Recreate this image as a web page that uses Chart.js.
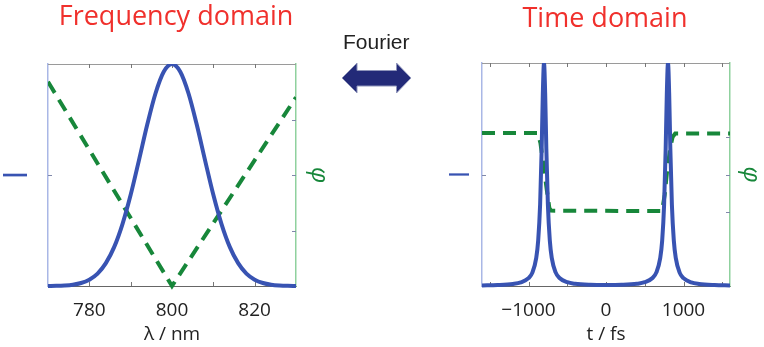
<!DOCTYPE html>
<html lang="en">
<head>
  <meta charset="UTF-8" />
  <title>Frequency domain / Time domain</title>
  <script src="https://cdn.jsdelivr.net/npm/chart.js"></script>
  <style>
    html, body { margin: 0; padding: 0; background: #fff; }
    body { width: 764px; height: 347px; position: relative; overflow: hidden; }
    .panel { position: absolute; top: 0; height: 347px; }
    #freqPanel { left: 0; width: 352px; }
    #timePanel { left: 446px; width: 318px; }
    #fourier {
      position: absolute; left: 343px; top: 30.5px;
      font: 21px/21px 'Liberation Sans', Arial, sans-serif; color: #222;
    }
    #arrow { position: absolute; left: 340px; top: 61px; }
  </style>
</head>
<body>
  <div id="freqPanel" class="panel"><canvas id="freqChart"></canvas></div>
  <div id="timePanel" class="panel"><canvas id="timeChart"></canvas></div>
  <div id="fourier">Fourier</div>
  <svg id="arrow" width="74" height="34">
    <polygon points="2,17 17,2 17,9.5 56.5,9.5 56.5,2 71,17 56.5,32 56.5,25 17,25 17,32"
             fill="#232a78" stroke="#8e94ba" stroke-width="1" />
  </svg>

  <script>
    // ── values ─────────────────────────────────────────────────
    const lambdaNm = [770, 772, 774, 776, 778, 780, 782, 784, 786, 788, 790, 792, 794, 796, 798, 800,
                      802, 804, 806, 808, 810, 812, 814, 816, 818, 820, 822, 824, 826, 828, 830];
    const spectrum = [0.0003, 0.0009, 0.0025, 0.006, 0.0135, 0.0286, 0.056, 0.103, 0.175, 0.278, 0.411, 0.566, 0.726, 0.867, 0.965, 1,
                      0.965, 0.867, 0.726, 0.566, 0.411, 0.278, 0.175, 0.103, 0.056, 0.0286, 0.0135, 0.006, 0.0025, 0.0009, 0.0003];
    const phaseLambdaNm = [770, 800, 830];
    const spectralPhase = [0.92, 0, 0.85];
    const lambdaTicks = [780, 790, 800, 810, 820];
    const lambdaTickLabels = [780, 800, 820];

    const timeFs = [-1600, -1400, -1200, -1100, -1000, -950, -900, -875, -850, -830, -815, -800, -785, -770, -750, -725, -700,
                    -650, -600, -500, -400, -200, 0, 200, 400, 500, 600, 650,
                    700, 725, 750, 770, 785, 800, 815, 830, 850, 875, 900, 950, 1000, 1100, 1200, 1400, 1600];
    const pulse = [0.0025, 0.0043, 0.0092, 0.016, 0.035, 0.060, 0.126, 0.204, 0.366, 0.616, 0.865, 1, 0.865, 0.616, 0.366, 0.204, 0.126,
                   0.061, 0.036, 0.017, 0.010, 0.0054, 0.0045, 0.0054, 0.010, 0.017, 0.036, 0.061,
                   0.126, 0.204, 0.366, 0.616, 0.865, 1, 0.865, 0.616, 0.366, 0.204, 0.126, 0.060, 0.035, 0.016, 0.0092, 0.0043, 0.0025];
    const phaseTimeFs = [-1600, -880, -846, -795, -760, -731, -709, 723, 757, 787, 829, 859, 893, 1600];
    const temporalPhase = [0.686, 0.686, 0.641, 0.511, 0.422, 0.350, 0.338, 0.336, 0.408, 0.511, 0.619, 0.668, 0.684, 0.684];
    const timeTicks = [-1500, -1000, -500, 0, 500, 1000, 1500];
    const timeTickLabels = [-1000, 0, 1000];

    const BLUE = '#3853b2';
    const GREEN = '#17873a';
    const RED = '#f0302c';
    const FONT = "'Open Sans', 'DejaVu Sans', sans-serif";

    // small inward tick marks + grey top frame, drawn under the curves
    const inwardTicks = {
      id: 'inwardTicks',
      beforeDatasetsDraw(chart) {
        const { ctx, chartArea: a, scales } = chart;
        ctx.save();
        ctx.lineWidth = 1;
        ctx.strokeStyle = '#9a9a9a';
        ctx.beginPath();
        ctx.moveTo(a.left, a.top + 0.5);
        ctx.lineTo(a.right, a.top + 0.5);
        ctx.stroke();

        ctx.strokeStyle = '#777';
        ctx.beginPath();
        scales.x.ticks.forEach(t => {
          const px = Math.round(scales.x.getPixelForValue(t.value)) + 0.5;
          ctx.moveTo(px, a.bottom); ctx.lineTo(px, a.bottom - 4);
          ctx.moveTo(px, a.top); ctx.lineTo(px, a.top + 4);
        });
        ctx.stroke();

        ctx.strokeStyle = '#8088aa';
        ctx.beginPath();
        scales.y.ticks.forEach(t => {
          const py = Math.round(scales.y.getPixelForValue(t.value)) + 0.5;
          ctx.moveTo(a.left, py); ctx.lineTo(a.left + 4, py);
        });
        scales.y1.ticks.forEach(t => {
          const py = Math.round(scales.y1.getPixelForValue(t.value)) + 0.5;
          ctx.moveTo(a.right, py); ctx.lineTo(a.right - 4, py);
        });
        ctx.stroke();
        ctx.restore();
      }
    };

    function makePanel(canvasId, o) {
      const clip = { left: 0, top: 0, right: 0, bottom: 4 };
      return new Chart(document.getElementById(canvasId), {
        type: 'line',
        data: {
          datasets: [
            {
              data: o.ampX.map((x, i) => ({ x, y: o.ampY[i] })),
              yAxisID: 'y',
              borderColor: BLUE,
              borderWidth: 4,
              pointRadius: 0,
              cubicInterpolationMode: 'monotone',
              clip
            },
            {
              data: o.phaseX.map((x, i) => ({ x, y: o.phaseY[i] })),
              yAxisID: 'y1',
              borderColor: GREEN,
              borderWidth: 4,
              borderDash: [13, 8],
              pointRadius: 0,
              tension: 0,
              clip
            }
          ]
        },
        options: {
          responsive: true,
          maintainAspectRatio: false,
          animation: false,
          layout: { padding: 0 },
          plugins: {
            legend: { display: false },
            tooltip: { enabled: false },
            title: {
              display: true,
              text: o.title,
              color: RED,
              font: { family: FONT, size: 27, weight: 'normal', lineHeight: 1 },
              padding: { top: o.titleTop, bottom: o.titleBottom }
            }
          },
          scales: {
            x: {
              type: 'linear',
              min: o.xMin,
              max: o.xMax,
              afterBuildTicks: s => { s.ticks = o.xTicks.map(v => ({ value: v })); },
              afterFit: s => { s.height = 61; },
              grid: { display: false },
              border: { color: '#666', width: 1 },
              ticks: {
                color: '#222',
                font: { family: FONT, size: 19, lineHeight: 1 },
                padding: 7.5,
                maxRotation: 0,
                autoSkip: false,
                callback: v => o.xLabels.includes(v) ? String(v).replace('-', '\u2212') : ''
              },
              title: {
                display: true,
                text: o.xTitle,
                color: '#222',
                font: { family: FONT, size: 19, lineHeight: 1 },
                padding: { top: 0, bottom: 2.5 }
              }
            },
            y: {
              position: 'left',
              min: 0,
              max: 1,
              afterBuildTicks: s => { s.ticks = [{ value: 0.5 }]; },
              afterFit: s => { s.width = o.leftW; },
              grid: { display: false },
              border: { color: '#a9b7e6', width: 1.5 },
              ticks: { display: false },
              title: {
                display: true,
                text: 'I',
                color: BLUE,
                font: { family: FONT, size: o.iSize, lineHeight: 1 },
                padding: { top: o.iPad, bottom: 0 }
              }
            },
            y1: {
              position: 'right',
              min: 0,
              max: 1,
              afterBuildTicks: s => { s.ticks = o.phaseTicks.map(v => ({ value: v })); },
              afterFit: s => { s.width = o.rightW; },
              grid: { display: false },
              border: { color: '#8fd19e', width: 1.5 },
              ticks: { display: false },
              title: {
                display: true,
                text: '\u03c6',
                color: GREEN,
                font: { family: FONT, size: 24, style: 'italic', lineHeight: 1 },
                padding: { top: o.phiPad, bottom: 0 }
              }
            }
          }
        },
        plugins: [inwardTicks]
      });
    }

    makePanel('freqChart', {
      title: 'Frequency domain', titleTop: 3.5, titleBottom: 33.5,
      ampX: lambdaNm, ampY: spectrum,
      phaseX: phaseLambdaNm, phaseY: spectralPhase,
      xMin: 770, xMax: 830, xTicks: lambdaTicks, xLabels: lambdaTickLabels,
      xTitle: '\u03bb / nm',
      leftW: 48, rightW: 56, iSize: 32, iPad: 1.8, phiPad: 21.5,
      phaseTicks: [0.25, 0.5, 0.75]
    });

    makePanel('timeChart', {
      title: 'Time domain', titleTop: 5.5, titleBottom: 30.5,
      ampX: timeFs, ampY: pulse,
      phaseX: phaseTimeFs, phaseY: temporalPhase,
      xMin: -1600, xMax: 1600, xTicks: timeTicks, xLabels: timeTickLabels,
      xTitle: 't / fs',
      leftW: 36, rightW: 34, iSize: 27, iPad: 1.5, phiPad: 1.5,
      phaseTicks: [1 / 3, 0.5, 2 / 3]
    });
  </script>
</body>
</html>
